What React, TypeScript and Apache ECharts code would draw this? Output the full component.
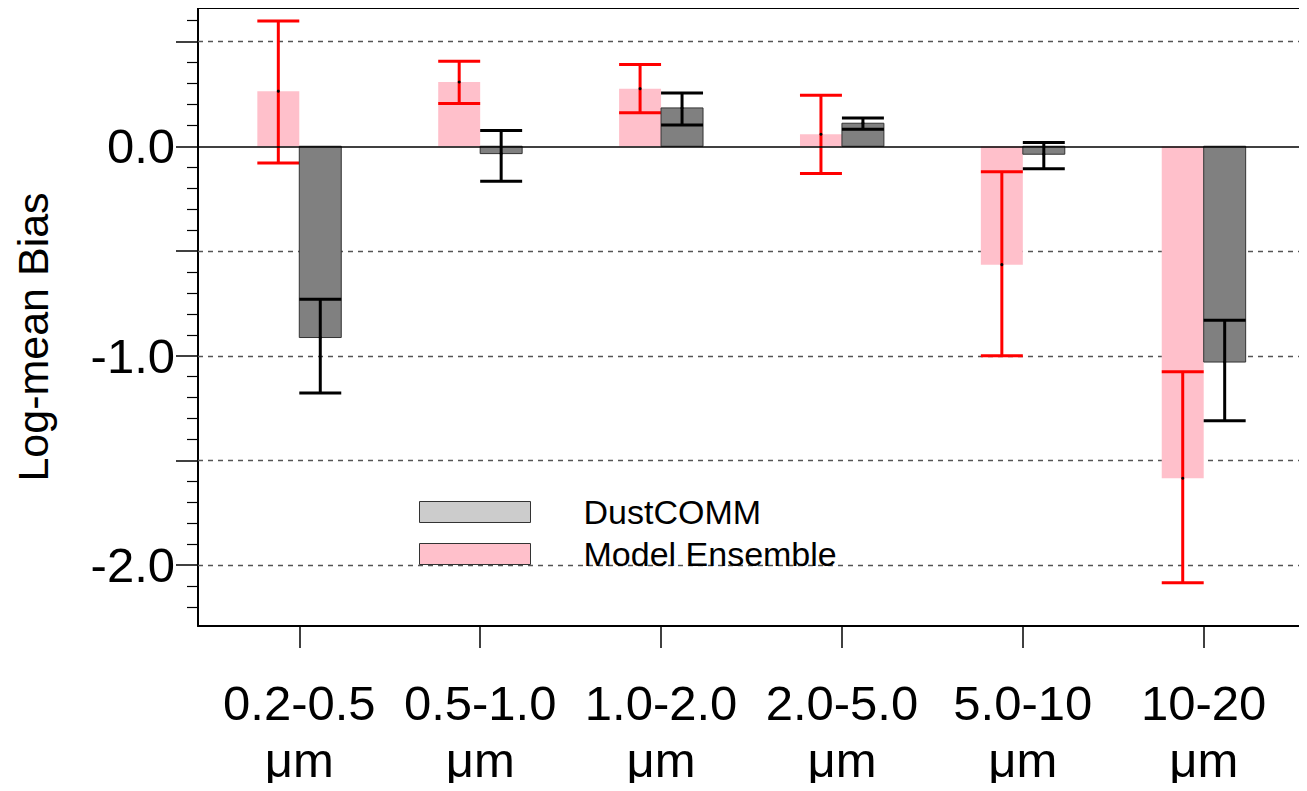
import React, { useEffect, useRef } from "react";
import * as echarts from "echarts";

const categories = ["0.2-0.5\nμm", "0.5-1.0\nμm", "1.0-2.0\nμm", "2.0-5.0\nμm", "5.0-10\nμm", "10-20\nμm"];
const categoryPositions = [1, 2, 3, 4, 5, 6];

const ensembleMean = [0.263, 0.307, 0.275, 0.057, -0.565, -1.585];
const ensembleLow = [-0.08, 0.204, 0.16, -0.13, -1.0, -2.083];
const ensembleHigh = [0.598, 0.406, 0.39, 0.243, -0.122, -1.076];

const dustMean = [-0.913, -0.035, 0.183, 0.11, -0.038, -1.03];
const dustLow = [-1.178, -0.167, 0.102, 0.081, -0.107, -1.31];
const dustHigh = [-0.73, 0.075, 0.254, 0.135, 0.018, -0.83];

const majorTicks = [-2.0, -1.5, -1.0, -0.5, 0.0, 0.5];
const minorTicks = [
  -2.2, -2.1, -1.9, -1.8, -1.7, -1.6, -1.4, -1.3, -1.2, -1.1, -0.9, -0.8, -0.7, -0.6,
  -0.4, -0.3, -0.2, -0.1, 0.1, 0.2, 0.3, 0.4, 0.6,
];
const labelTicks = [-2.0, -1.0, 0.0];
const dashedLines = [0.5, -0.5, -1.0, -1.5, -2.0];

const FONT = "'Liberation Sans', Arial, Helvetica, sans-serif";
const BAR_W = 0.232;

function makeRender(side: number, fill: string, border: string, errColor: string) {
  return (params: any, api: any) => {
    const x = api.value(0);
    const v = api.value(1);
    const lo = api.value(2);
    const hi = api.value(3);
    const x0 = side < 0 ? x - BAR_W : x;
    const x1 = side < 0 ? x : x + BAR_W;
    const pTop = api.coord([x0, Math.max(v, 0)]);
    const pBot = api.coord([x1, Math.min(v, 0)]);
    const xc = api.coord([(x0 + x1) / 2, v]);
    const pLo = api.coord([x0, lo]);
    const pHi = api.coord([x1, hi]);
    const children: any[] = [
      {
        type: "rect",
        shape: { x: pTop[0], y: pTop[1], width: pBot[0] - pTop[0], height: pBot[1] - pTop[1] },
        style: { fill, stroke: border, lineWidth: border === "none" ? 0 : 1 },
      },
      {
        type: "line",
        shape: { x1: xc[0], y1: pLo[1], x2: xc[0], y2: pHi[1] },
        style: { stroke: errColor, lineWidth: 3 },
      },
      {
        type: "line",
        shape: { x1: pLo[0], y1: pLo[1], x2: pHi[0], y2: pLo[1] },
        style: { stroke: errColor, lineWidth: 3 },
      },
      {
        type: "line",
        shape: { x1: pLo[0], y1: pHi[1], x2: pHi[0], y2: pHi[1] },
        style: { stroke: errColor, lineWidth: 3 },
      },
      {
        type: "circle",
        shape: { cx: xc[0], cy: xc[1], r: 1.5 },
        style: { fill: "#000" },
      },
    ];
    return { type: "group", children };
  };
}

export default function App() {
  const ref = useRef<HTMLDivElement>(null);

  useEffect(() => {
    if (!ref.current) return;
    const chart = echarts.init(ref.current, null, { renderer: "svg" });

    const ensembleData = categoryPositions.map((p, i) => [p, ensembleMean[i], ensembleLow[i], ensembleHigh[i]]);
    const dustData = categoryPositions.map((p, i) => [p, dustMean[i], dustLow[i], dustHigh[i]]);

    const option: any = {
      animation: false,
      backgroundColor: "#fff",
      textStyle: { fontFamily: FONT },
      grid: { left: 198, right: 2, top: 8, bottom: 165, containLabel: false },
      legend: {
        orient: "vertical",
        left: 414,
        top: 490,
        itemWidth: 111,
        itemHeight: 21,
        itemGap: 8,
        selectedMode: false,
        textStyle: { fontFamily: FONT, fontSize: 34, color: "#000", padding: [0, 0, 0, 48] },
        data: [
          { name: "DustCOMM", icon: "rect", itemStyle: { color: "#cccccc", borderColor: "#333", borderWidth: 1 } },
          { name: "Model Ensemble", icon: "rect", itemStyle: { color: "#ffc0cb", borderColor: "#333", borderWidth: 1 } },
        ],
      },
      xAxis: [
        {
          type: "value",
          min: 0.44,
          max: 6.56,
          splitLine: { show: false },
          axisLine: { show: true, onZero: false, lineStyle: { color: "#000", width: 2 } },
          axisTick: {
            show: true,
            customValues: categoryPositions,
            length: 22,
            lineStyle: { color: "#000", width: 1.5 },
          },
          axisLabel: {
            show: true,
            customValues: categoryPositions,
            formatter: (v: number) => categories[Math.round(v) - 1] ?? "",
            fontSize: 49,
            lineHeight: 57,
            margin: 48,
            color: "#000",
            fontFamily: FONT,
          },
        },
        {
          type: "value",
          position: "top",
          min: 0.44,
          max: 6.56,
          splitLine: { show: false },
          axisLine: { show: true, onZero: false, lineStyle: { color: "#000", width: 2 } },
          axisTick: { show: false },
          axisLabel: { show: false },
        },
      ],
      yAxis: [
        {
          type: "value",
          position: "left",
          min: -2.29,
          max: 0.66,
          name: "Log-mean Bias",
          nameLocation: "middle",
          nameGap: 144,
          nameTextStyle: { fontSize: 43, color: "#000", fontFamily: FONT, padding: [0, 40, 0, 0] },
          splitLine: { show: false },
          axisLine: { show: true, onZero: false, lineStyle: { color: "#000", width: 2 } },
          axisTick: { show: true, customValues: majorTicks, length: 22, lineStyle: { color: "#000", width: 1.5 } },
          axisLabel: {
            show: true,
            customValues: labelTicks,
            formatter: (v: number) => v.toFixed(1),
            fontSize: 49,
            margin: 23,
            color: "#000",
            fontFamily: FONT,
          },
        },
        {
          type: "value",
          position: "left",
          min: -2.29,
          max: 0.66,
          splitLine: { show: false },
          axisLine: { show: false },
          axisTick: { show: true, customValues: minorTicks, length: 11, lineStyle: { color: "#000", width: 1.2 } },
          axisLabel: { show: false },
        },
        {
          type: "value",
          position: "right",
          min: -2.29,
          max: 0.66,
          splitLine: { show: false },
          axisLine: { show: true, onZero: false, lineStyle: { color: "#555", width: 1.5 } },
          axisTick: { show: false },
          axisLabel: { show: false },
        },
      ],
      series: [
        {
          name: "Model Ensemble",
          type: "custom",
          xAxisIndex: 0,
          yAxisIndex: 0,
          z: 3,
          renderItem: makeRender(-1, "#ffc0cb", "none", "#ff0000"),
          data: ensembleData,
          encode: { x: 0, y: [1, 2, 3] },
          markLine: {
            silent: true,
            symbol: ["none", "none"],
            label: { show: false },
            z: 1,
            lineStyle: { color: "#555", type: [5, 5], width: 1.3 },
            data: dashedLines.map((v) => ({ yAxis: v })),
          },
        },
        {
          name: "DustCOMM",
          type: "custom",
          xAxisIndex: 0,
          yAxisIndex: 0,
          z: 4,
          renderItem: makeRender(1, "#808080", "#333", "#000000"),
          data: dustData,
          encode: { x: 0, y: [1, 2, 3] },
          markLine: {
            silent: true,
            symbol: ["none", "none"],
            label: { show: false },
            lineStyle: { color: "#000", type: "solid", width: 1.5 },
            data: [{ yAxis: 0 }],
          },
        },
      ],
    };

    chart.setOption(option);
    return () => chart.dispose();
  }, []);

  return <div ref={ref} style={{ width: 1307, height: 791, margin: -8 }} />;
}
